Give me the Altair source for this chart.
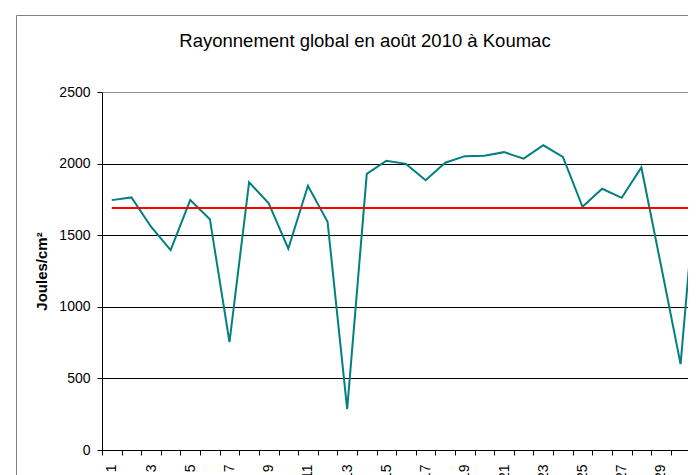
import altair as alt
import pandas as pd

# ---- data ----
jours = list(range(1, 32))
rayonnement = [1745, 1764, 1559, 1396, 1745, 1612, 753, 1870, 1722, 1406,
               1845, 1594, 286, 1928, 2020, 1998, 1884, 2006, 2052, 2055,
               2080, 2035, 2128, 2047, 1698, 1824, 1761, 1973, 1290, 600, 2180]
moyenne = 1690
y_ticks = [0, 500, 1000, 1500, 2000, 2500]
titre = "Rayonnement global en août 2010 à Koumac"
titre_y = "Joules/cm²"

df = pd.DataFrame({"jour": jours, "rayonnement": rayonnement,
                   "moyenne": [moyenne for _ in jours]})

FONT = "Liberation Sans"
W, H = 586, 358      # visible plot area (the original chart is cropped on the right)
FULL_W = 608         # full width of the 31 day bands

x_enc = alt.X(
    "jour:O",
    scale=alt.Scale(type="band", domain=jours, paddingInner=0, paddingOuter=0,
                    range=[0, FULL_W]),
    bandPosition=0.5,
    axis=alt.Axis(title=None, tickBand="extent", labelAngle=-90,
                  labelExpr="datum.value % 2 == 1 ? datum.label : ''",
                  labelFont=FONT, labelFontSize=14, labelColor="#000",
                  labelPadding=9, tickSize=5, tickColor="#000",
                  domainColor="#000", labelOverlap=False, grid=False),
)

y_enc = alt.Y(
    "valeur:Q",
    scale=alt.Scale(domain=[0, 2500], nice=False, zero=True),
    axis=alt.Axis(values=y_ticks, format="d", title=titre_y, titleFont=FONT,
                  titleFontSize=15, titleFontWeight="bold", titleColor="#000",
                  titleX=-61, titleY=H / 2, titleAngle=-90, titleAlign="center",
                  titleBaseline="middle",
                  labelFont=FONT, labelFontSize=14, labelColor="#000",
                  labelPadding=7, tickSize=5, tickColor="#000",
                  domainColor="#000", grid=True,
                  gridColor=alt.condition("datum.value == 2500",
                                          alt.value("#8c8c8c"),
                                          alt.value("#000000"))),
)

lines = (
    alt.Chart(df)
    .transform_fold(["rayonnement", "moyenne"], as_=["serie", "valeur"])
    .mark_line(strokeWidth=2)
    .encode(
        x=x_enc,
        y=y_enc,
        color=alt.Color("serie:N",
                        scale=alt.Scale(domain=["rayonnement", "moyenne"],
                                        range=["#008080", "#ff0000"]),
                        legend=None),
    )
)

one = alt.Data(values=[{"t": titre}])

border = alt.Chart(one).mark_rect(filled=False, stroke="#808080", strokeWidth=1).encode(
    x=alt.value(-85.5), x2=alt.value(720), y=alt.value(-76.5), y2=alt.value(500)
)

title = alt.Chart(one).mark_text(font=FONT, fontSize=18.5, color="#000",
                                 align="center", baseline="alphabetic").encode(
    x=alt.value(263), y=alt.value(-45.3), text="t:N"
)

chart = (
    alt.layer(border, lines, title)
    .properties(width=W, height=H,
                autosize=alt.AutoSizeParams(type="none"),
                padding={"left": 94, "top": 84, "right": 0, "bottom": 25})
    .configure_view(stroke=None)
    .configure(background="white")
)

chart.save("out.html", embed_options={"renderer": "svg", "actions": False})
